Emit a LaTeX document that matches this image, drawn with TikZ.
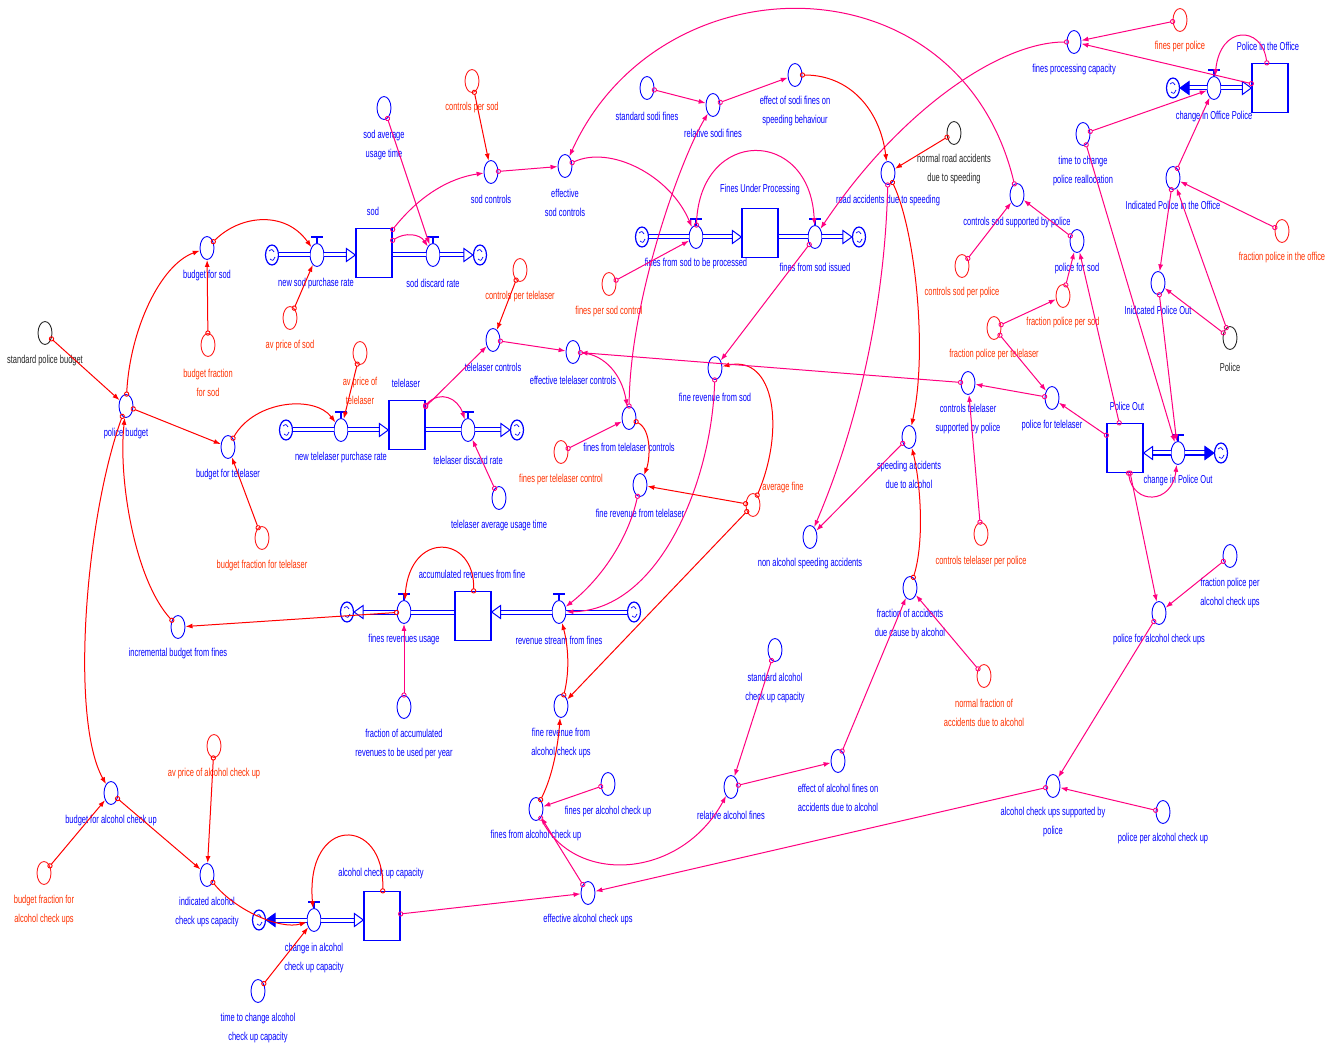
\documentclass[tikz,border=0pt]{standalone}
\usepackage{fontspec}
\setmainfont{Liberation Sans}
\newfontfamily\lblfont{Liberation Sans}[FakeStretch=0.65]
\usetikzlibrary{shapes.geometric,arrows.meta,calc}
\definecolor{cBlue}{RGB}{0,0,255}
\definecolor{cRed}{RGB}{255,30,30}
\definecolor{cLab}{RGB}{255,50,0}
\definecolor{cDark}{RGB}{40,40,40}
\definecolor{cLinkR}{RGB}{255,0,0}
\definecolor{cPink}{RGB}{255,0,128}
\tikzset{
 varbase/.style={ellipse, minimum width=14pt, minimum height=23pt, inner sep=0pt, line width=0.9pt},
 vb/.style={varbase, draw=cBlue},
 vr/.style={varbase, draw=cRed},
 vk/.style={varbase, draw=cDark},
 lblbase/.style={font=\lblfont\fontsize{11.5}{19}\selectfont, align=center, inner sep=0pt},
 vbl/.style={lblbase, text=cBlue},
 vrl/.style={lblbase, text=cLab},
 vkl/.style={lblbase, text=cDark},
 valve/.style={varbase, draw=cBlue, fill=white},
 valvetop/.style={draw=cBlue, line width=1.4pt},
 stock/.style={rectangle, draw=cBlue, line width=1.3pt, minimum width=36pt, minimum height=49pt, inner sep=0pt, fill=white},
 cloudn/.style={ellipse, draw=cBlue, line width=1.2pt, minimum width=13pt, minimum height=20pt, inner sep=0pt, fill=white},
 pipe/.style={draw=cBlue, double=white, double distance=3pt, line width=1pt},
 phead/.style={draw=cBlue, line width=1pt, fill=white, line join=miter},
 pheadf/.style={draw=cBlue, line width=1pt, fill=cBlue},
 lk/.style={line width=1pt, shorten <=-2.6pt, {Circle[open,length=5.2pt,width=5.2pt,line width=0.9pt]}-{Latex[length=7pt,width=5pt]}},
 lr/.style={lk, draw=cLinkR},
 lp/.style={lk, draw=cPink},
}
\newcommand\V[7]{\node[#4] (#1) at (#2,#3) {}; \node[#4l] (#1l) at (#5,#6) {#7};}
\newcommand\Valve[6]{\node[valve] (#1) at (#2,#3) {};
  \draw[valvetop] (#1.north) -- ++(0,-6) ++(-6,0) -- ++(12,0);
  \node[vbl] (#1l) at (#4,#5) {#6};}
\newcommand\Stock[6]{\node[stock] (#1) at (#2,#3) {}; \node[vbl] (#1l) at (#4,#5) {#6};}
\newcommand\Cloud[3]{\node[cloudn] (#1) at (#2,#3) {};
  \draw[cBlue,line width=.7pt] ($(#1)+(-3,-4)$) .. controls ($(#1)+(0,-6)$) .. ($(#1)+(2,-3)$);
  \draw[cBlue,line width=.7pt] ($(#1)+(-2,4)$) .. controls ($(#1)+(1,6)$) .. ($(#1)+(3,2)$);}
\newcommand\headR[1]{\draw[phead] (#1) -- ++(-9,-6.5) -- ++(0,13) -- cycle;}
\newcommand\headL[1]{\draw[phead] (#1) -- ++(9,-6.5) -- ++(0,13) -- cycle;}
\newcommand\headRf[1]{\draw[pheadf] (#1) -- ++(-9,-6.5) -- ++(0,13) -- cycle;}
\newcommand\headLf[1]{\draw[pheadf] (#1) -- ++(9,-6.5) -- ++(0,13) -- cycle;}
\begin{document}
\begin{tikzpicture}[x=1pt,y=-1pt]
\fill[white] (0,0) rectangle (1339,1048);
\useasboundingbox (0,0) rectangle (1339,1048);

% ---------- stocks, valves, clouds ----------
\Stock{sod}{374}{253}{373}{211}{sod}
\Stock{tel}{407}{425}{406}{383}{telelaser}
\Stock{fup}{760}{233}{760}{190}{Fines Under Processing}
\Stock{acc}{473}{616}{472}{574}{accumulated revenues from fine}
\Stock{pio}{1270}{88}{1268}{46}{Police in the Office}
\Stock{pout}{1125}{448}{1127}{406}{Police Out}
\Stock{acap}{382}{916}{381}{874}{alcohol check up capacity}

\Valve{vsodin}{317}{255}{316}{284}{new sod purchase rate}
\Valve{vsodout}{433}{255}{433}{283}{sod discard rate}
\Valve{vtelin}{341}{430}{341}{458}{new telelaser purchase rate}
\Valve{vtelout}{468}{430}{468}{460}{telelaser discard rate}
\Valve{vfupin}{696}{237}{696}{264}{fines from sod to be processed}
\Valve{vfupout}{815}{237}{815}{267}{fines from sod issued}
\Valve{vaccin}{559}{612}{559}{640}{revenue stream from fines}
\Valve{vaccout}{404}{612}{404}{640}{fines revenues usage}
\Valve{vpio}{1214}{88}{1214}{117}{change in Office Police}
\Valve{vpout}{1178}{453}{1178}{481}{change in Police Out}
\Valve{vacap}{314}{920}{314}{958.5}{change in alcohol\\check up capacity}

\Cloud{c1}{272}{255}
\Cloud{c2}{480}{255}
\Cloud{c3}{286}{430}
\Cloud{c4}{517}{430}
\Cloud{c5}{642}{237}
\Cloud{c6}{859}{237}
\Cloud{c7}{634}{612}
\Cloud{c8}{347}{612}
\Cloud{c9}{1173}{88}
\Cloud{c10}{1221}{453}
\Cloud{c11}{259}{920}

% ---------- pipes ----------
\draw[pipe] (c1) -- (vsodin);
\draw[pipe,shorten >=8pt] (vsodin) -- (sod.west |- vsodin); \headR{sod.west |- vsodin}
\draw[pipe] (sod.east |- vsodout) -- (vsodout);
\draw[pipe,shorten >=8pt] (vsodout) -- (c2.west); \headR{c2.west}
\draw[pipe] (c3) -- (vtelin);
\draw[pipe,shorten >=8pt] (vtelin) -- (tel.west |- vtelin); \headR{tel.west |- vtelin}
\draw[pipe] (tel.east |- vtelout) -- (vtelout);
\draw[pipe,shorten >=8pt] (vtelout) -- (c4.west); \headR{c4.west}
\draw[pipe] (c5) -- (vfupin);
\draw[pipe,shorten >=8pt] (vfupin) -- (fup.west |- vfupin); \headR{fup.west |- vfupin}
\draw[pipe] (fup.east |- vfupout) -- (vfupout);
\draw[pipe,shorten >=8pt] (vfupout) -- (c6.west); \headR{c6.west}
\draw[pipe] (c7) -- (vaccin);
\draw[pipe,shorten >=8pt] (vaccin) -- (acc.east |- vaccin); \headL{acc.east |- vaccin}
\draw[pipe] (acc.west |- vaccout) -- (vaccout);
\draw[pipe,shorten >=8pt] (vaccout) -- (c8.east); \headL{c8.east}
\draw[pipe,shorten >=8pt] (vpio) -- (pio.west |- vpio); \headR{pio.west |- vpio}
\draw[pipe,shorten >=8pt] (vpio) -- (c9.east); \headLf{c9.east}
\draw[pipe,shorten >=8pt] (vpout) -- (pout.east |- vpout); \headL{pout.east |- vpout}
\draw[pipe,shorten >=8pt] (vpout) -- (c10.west); \headRf{c10.west}
\draw[pipe,shorten >=8pt] (vacap) -- (acap.west |- vacap); \headR{acap.west |- vacap}
\draw[pipe,shorten >=8pt] (vacap) -- (c11.east); \headLf{c11.east}

% ---------- auxiliaries ----------
\V{sodavg}{384}{108}{vb}{384}{145.5}{sod average\\usage time}
\V{budsod}{207}{248}{vb}{207}{276}{budget for sod}
\V{polbud}{126}{406}{vb}{126}{434}{police budget}
\V{budtel}{228}{447}{vb}{228}{475}{budget for telelaser}
\V{incbud}{178}{627}{vb}{178}{654}{incremental budget from fines}
\V{teluse}{499}{498}{vb}{499}{526}{telelaser average usage time}
\V{telcon}{493}{340}{vb}{493}{367}{telelaser controls}
\V{efftel}{573}{352}{vb}{573}{380}{effective telelaser controls}
\V{finetelc}{629}{418}{vb}{629}{447}{fines from telelaser controls}
\V{frtel}{640}{485}{vb}{640}{513}{fine revenue from telelaser}
\V{frsod}{715}{368}{vb}{715}{397}{fine revenue from sod}
\V{nonalc}{810}{537}{vb}{810}{564}{non alcohol speeding accidents}
\V{stdalc}{775}{650}{vb}{775}{688.5}{standard alcohol\\check up capacity}
\V{sodcon}{491}{172}{vb}{491}{199}{sod controls}
\V{effsod}{565}{166}{vb}{565}{202.5}{effective\\sod controls}
\V{stdsodi}{647}{88}{vb}{647}{116}{standard sodi fines}
\V{relsodi}{713}{105}{vb}{713}{133}{relative sodi fines}
\V{effsodi}{795}{75}{vb}{795}{111.5}{effect of sodi fines on\\speeding behaviour}
\V{roadacc}{888}{173}{vb}{888}{201}{road accidents due to speeding}
\V{fpc}{1074}{42}{vb}{1074}{70}{fines processing capacity}
\V{csodsp}{1017}{195}{vb}{1017}{223}{controls sod supported by police}
\V{polsod}{1077}{241}{vb}{1077}{269}{police for sod}
\V{ttcpr}{1083}{134}{vb}{1083}{171.5}{time to change\\police reallocation}
\V{ipio}{1173}{178}{vb}{1173}{205}{Indicated Police in the Office}
\V{ipo}{1158}{283}{vb}{1158}{310}{Inidcated Police Out}
\V{ctelsp}{968}{383}{vb}{968}{419.5}{controls telelaser\\supported by police}
\V{poltel}{1052}{398}{vb}{1052}{426}{police for telelaser}
\V{spacc}{909}{437}{vb}{909}{474.5}{speeding accidents\\due to alcohol}
\V{fracalc}{910}{588}{vb}{910}{624.5}{fraction of accidents\\due cause by alcohol}
\V{fpalc}{1230}{556}{vb}{1230}{593.5}{fraction police per\\alcohol check ups}
\V{polalc}{1159}{613}{vb}{1159}{640}{police for alcohol check ups}
\V{acsp}{1053}{786}{vb}{1053}{822.5}{alcohol check ups supported by\\police}
\V{ppac}{1163}{812}{vb}{1163}{839}{police per alcohol check up}
\V{fralc}{561}{706}{vb}{561}{743.5}{fine revenue from\\alcohol check ups}
\V{fac}{536}{809}{vb}{536}{836}{fines from alcohol check up}
\V{fpac}{608}{784}{vb}{608}{812}{fines per alcohol check up}
\V{relalc}{731}{787}{vb}{731}{815}{relative alcohol fines}
\V{effalc}{838}{761}{vb}{838}{797.5}{effect of alcohol fines on\\accidents due to alcohol}
\V{effac}{588}{893}{vb}{588}{920}{effective alcohol check ups}
\V{budalc}{111}{793}{vb}{111}{821}{budget for alcohol check up}
\V{indalc}{207}{875}{vb}{207}{912.5}{indicated alcohol\\check ups capacity}
\V{ttcac}{258}{991}{vb}{258}{1028.5}{time to change alcohol\\check up capacity}
\V{fracrev}{404}{707}{vb}{404}{744.5}{fraction of accumulated\\revenues to be used per year}

\V{budfracsod}{208}{345}{vr}{208}{382.5}{budget fraction\\for sod}
\V{avsod}{290}{318}{vr}{290}{346}{av price of sod}
\V{budfractel}{262}{538}{vr}{262}{566}{budget fraction for telelaser}
\V{avtel}{360}{353}{vr}{360}{390.5}{av price of\\telelaser}
\V{fptc}{561}{452}{vr}{561}{480}{fines per telelaser control}
\V{avfine}{753}{505}{vr}{783}{488}{average fine}
\V{cps}{472}{81}{vr}{472}{108}{controls per sod}
\V{fpsc}{609}{284}{vr}{609}{312}{fines per sod control}
\V{cpt}{520}{270}{vr}{520}{297}{controls per telelaser}
\V{fpp}{1180}{20}{vr}{1180}{47}{fines per police}
\V{csp}{962}{266}{vr}{962}{293}{controls sod per police}
\V{fps}{1063}{296}{vr}{1063}{323}{fraction police per sod}
\V{fpt}{994}{328}{vr}{994}{355}{fraction police per telelaser}
\V{fpio}{1282}{231}{vr}{1282}{258}{fraction police in the office}
\V{ctp}{981}{534}{vr}{981}{562}{controls telelaser per police}
\V{nfa}{984}{676}{vr}{984}{712.5}{normal fraction of\\accidents due to alcohol}
\V{avac}{214}{746}{vr}{214}{774}{av price of alcohol check up}
\V{bfac}{44}{873}{vr}{44}{910.5}{budget fraction for\\alcohol check ups}

\V{spb}{45}{333}{vk}{45}{361}{standard police budget}
\V{nras}{954}{133}{vk}{954}{169.5}{normal road accidents\\due to speeding}
\V{police}{1230}{338}{vk}{1230}{367}{Police}

% ---------- curved links ----------
\draw[lr] (polbud) .. controls (130,330) and (160,265) .. (budsod);
\draw[lr] (polbud) .. controls (85,520) and (70,720) .. (budalc);
\draw[lr] (incbud) .. controls (135,580) and (118,480) .. (polbud);
\draw[lr] (budsod) .. controls (240,215) and (285,210) .. (vsodin);
\draw[lp] (sod) .. controls (405,232) and (420,234) .. (vsodout);
\draw[lp] (sod) .. controls (420,195) and (450,178) .. (sodcon);
\draw[lp] (csodsp) .. controls (960,-44) and (660,-44) .. (effsod);
\draw[lp] (effsod) .. controls (610,145) and (670,175) .. (vfupin);
\draw[lp] (vfupin) .. controls (700,127) and (810,127) .. (vfupout);
\draw[lp] (fpc) .. controls (1000,42) and (900,110) .. (vfupout);
\draw[lp] (pio) .. controls (1262,25) and (1220,25) .. (vpio);
\draw[lp] (pout) .. controls (1133,505) and (1172,505) .. (vpout);
\draw[lr] (budtel) .. controls (255,400) and (315,395) .. (vtelin);
\draw[lp] (tel) .. controls (440,390) and (458,398) .. (vtelout);
\draw[lp] (efftel) .. controls (605,355) and (622,375) .. (finetelc);
\draw[lr] (finetelc) .. controls (652,430) and (650,460) .. (frtel);
\draw[lr] (avfine) .. controls (785,430) and (775,355) .. (frsod);
\draw[lp] (frsod) .. controls (712,480) and (660,610) .. (vaccin);
\draw[lp] (frtel) .. controls (628,540) and (600,580) .. (vaccin);
\draw[lr] (fralc) .. controls (570,670) and (568,645) .. (vaccin);
\draw[lr] (fac) .. controls (553,775) and (558,745) .. (fralc);
\draw[lp] (fac) .. controls (575,885) and (680,880) .. (relalc);
\draw[lr] (fracalc) .. controls (925,540) and (920,480) .. (spacc);
\draw[lr] (roadacc) .. controls (915,230) and (928,350) .. (spacc);
\draw[lp] (roadacc) .. controls (885,300) and (860,420) .. (nonalc);
\draw[lr] (effsodi) .. controls (850,75) and (880,110) .. (roadacc);
\draw[lr] (acc) .. controls (475,535) and (410,530) .. (vaccout);
\draw[lr] (indalc) .. controls (235,910) and (280,930) .. (vacap);
\draw[lr] (acap) .. controls (385,815) and (305,815) .. (vacap);
\draw[lp] (finetelc) .. controls (630,300) and (680,160) .. (relsodi);

% ---------- straight links ----------
\draw[lr] (spb) -- (polbud);
\draw[lr] (polbud) -- (budtel);
\draw[lr] (budfracsod) -- (budsod);
\draw[lr] (avsod) -- (vsodin);
\draw[lp] (sodavg) -- (vsodout);
\draw[lr] (cps) -- (sodcon);
\draw[lp] (sodcon) -- (effsod);
\draw[lp] (fpsc) -- (vfupin);
\draw[lp] (fpp) -- (fpc);
\draw[lp] (pio) -- (fpc);
\draw[lp] (ttcpr) -- (vpio);
\draw[lp] (ipio) -- (vpio);
\draw[lp] (fpio) -- (ipio);
\draw[lp] (police) -- (ipio);
\draw[lp] (police) -- (ipo);
\draw[lp] (ipio) -- (ipo);
\draw[lp] (ipo) -- (vpout);
\draw[lp] (ttcpr) -- (vpout);
\draw[lp] (pout) -- (poltel);
\draw[lp] (pout) -- (polsod);
\draw[lp] (pout) -- (polalc);
\draw[lp] (fps) -- (polsod);
\draw[lp] (fpt) -- (fps);
\draw[lp] (fpt) -- (poltel);
\draw[lp] (polsod) -- (csodsp);
\draw[lp] (csp) -- (csodsp);
\draw[lp] (poltel) -- (ctelsp);
\draw[lp] (ctp) -- (ctelsp);
\draw[lp] (ctelsp) -- (efftel);
\draw[lp] (telcon) -- (efftel);
\draw[lr] (cpt) -- (telcon);
\draw[lp] (tel) -- (telcon);
\draw[lp] (teluse) -- (vtelout);
\draw[lr] (avtel) -- (vtelin);
\draw[lr] (budfractel) -- (budtel);
\draw[lp] (fptc) -- (finetelc);
\draw[lr] (avfine) -- (frtel);
\draw[lr] (avfine) -- (fralc);
\draw[lp] (fpac) -- (fac);
\draw[lp] (effac) -- (fac);
\draw[lp] (stdalc) -- (relalc);
\draw[lp] (relalc) -- (effalc);
\draw[lp] (effalc) -- (fracalc);
\draw[lp] (nfa) -- (fracalc);
\draw[lp] (spacc) -- (nonalc);
\draw[lr] (nras) -- (roadacc);
\draw[lp] (relsodi) -- (effsodi);
\draw[lp] (stdsodi) -- (relsodi);
\draw[lp] (vfupout) -- (frsod);
\draw[lp] (fracrev) -- (vaccout);
\draw[lr] (vaccout) -- (incbud);
\draw[lr] (budalc) -- (indalc);
\draw[lr] (bfac) -- (budalc);
\draw[lr] (avac) -- (indalc);
\draw[lr] (ttcac) -- (vacap);
\draw[lp] (acap) -- (effac);
\draw[lp] (acsp) -- (effac);
\draw[lp] (polalc) -- (acsp);
\draw[lp] (ppac) -- (acsp);
\draw[lp] (fpalc) -- (polalc);
\end{tikzpicture}
\end{document}
